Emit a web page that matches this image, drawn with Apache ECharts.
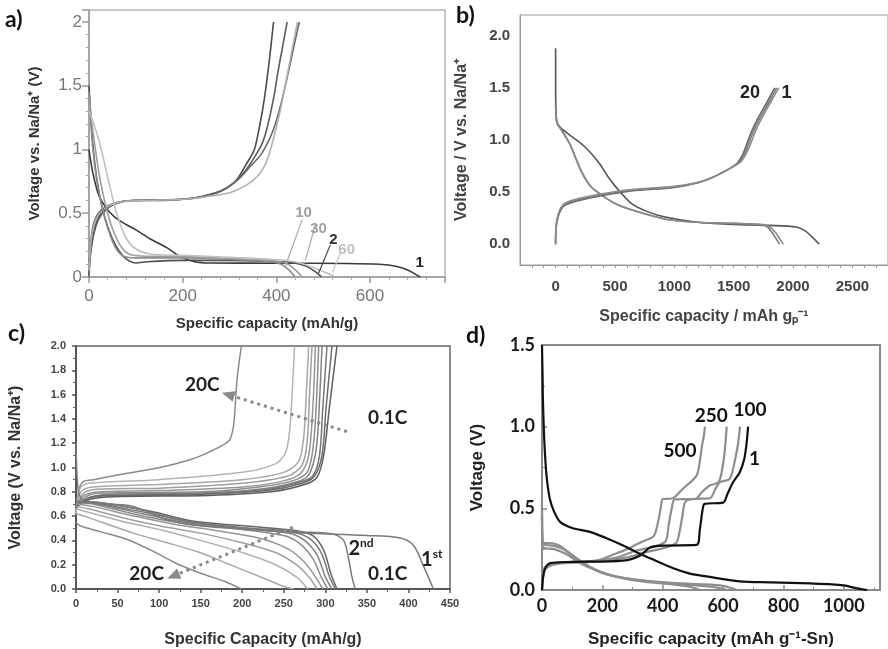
<!DOCTYPE html>
<html>
<head>
<meta charset="utf-8">
<script src="https://cdn.jsdelivr.net/npm/echarts@6/dist/echarts.min.js"></script>
<style>
  html, body { margin: 0; padding: 0; background: #fff; }
  #chart { width: 888px; height: 649px; }
</style>
</head>
<body>
<div id="chart"></div>
<script>
// ---------- Panel a: Na/Na+ cycling at different cycle numbers ----------
const aChargeCurves = [
  [[0,0.02],[4,0.2],[12,0.38],[25,0.5],[45,0.56],[70,0.59],[100,0.6],[150,0.6],[200,0.61],[238,0.63],[270,0.66],[295,0.7],[315,0.76],[335,0.88],[353,1.0],[365,1.2],[374,1.39],[385,1.7],[394,2.0]],
  [[0,0.12],[8,0.3],[20,0.45],[40,0.54],[70,0.59],[100,0.6],[200,0.61],[240,0.63],[280,0.67],[310,0.74],[335,0.84],[355,0.95],[370,1.05],[381,1.18],[395,1.42],[403,1.6],[413,1.8],[423,2.0]],
  [[0,0.0],[3,0.25],[10,0.42],[25,0.52],[55,0.58],[90,0.6],[200,0.61],[245,0.63],[285,0.68],[320,0.77],[345,0.87],[367,0.96],[385,1.08],[396,1.18],[410,1.36],[424,1.58],[437,1.8],[449,2.0]],
  [[0,0.05],[5,0.3],[15,0.45],[35,0.54],[70,0.59],[120,0.6],[200,0.61],[250,0.63],[300,0.66],[340,0.73],[362,0.8],[376,0.88],[389,1.02],[408,1.3],[424,1.6],[437,1.85],[445,2.0]]
];
const aDischargeCurves = [
  [[0,1.0],[8,0.82],[20,0.65],[35,0.55],[55,0.47],[80,0.41],[100,0.37],[130,0.3],[166,0.23],[195,0.16],[225,0.12],[260,0.11],[400,0.108],[550,0.106],[620,0.1],[655,0.085],[680,0.055],[707,0]],
  [[0,1.5],[5,1.2],[12,0.9],[22,0.65],[35,0.45],[50,0.3],[65,0.2],[80,0.14],[100,0.11],[125,0.12],[200,0.13],[300,0.13],[400,0.12],[430,0.115],[460,0.09],[480,0.05],[497,0]],
  [[0,1.45],[6,1.1],[15,0.8],[28,0.55],[42,0.36],[58,0.22],[75,0.16],[100,0.15],[200,0.15],[300,0.14],[390,0.12],[410,0.1],[428,0.05],[440,0]],
  [[0,1.4],[10,1.1],[22,0.8],[35,0.57],[50,0.38],[68,0.24],[85,0.18],[110,0.165],[200,0.16],[300,0.145],[400,0.125],[425,0.1],[442,0.05],[455,0]],
  [[0,1.3],[10,1.2],[23,1.05],[40,0.78],[59,0.5],[80,0.3],[100,0.22],[130,0.18],[200,0.17],[300,0.155],[420,0.13],[460,0.1],[495,0.05],[522,0.01]]
];
const aLeaderLines = [
  [[455,0.45],[419,0.08]],
  [[483,0.41],[462,0.13]],
  [[515,0.25],[490,0.03]],
  [[537,0.19],[520,0.04]]
];
const aCycleLabels = [['10',458,0.50],['30',490,0.38],['2',522,0.29],['60',550,0.21],['1',706,0.11]];

// ---------- Panel b ----------
const bDischargeCurves = [
  [[0,1.88],[0,1.5],[3,1.3],[15,1.15],[60,1.1],[140,1.03],[250,0.93],[366,0.78],[440,0.65],[507,0.55],[640,0.39],[780,0.31],[923,0.26],[1197,0.21],[1500,0.19],[1800,0.18],[2028,0.165],[2100,0.13],[2160,0.07],[2220,0]],
  [[0,1.35],[10,1.18],[40,1.12],[116,0.97],[170,0.82],[224,0.68],[290,0.56],[366,0.49],[500,0.39],[640,0.33],[923,0.24],[1197,0.21],[1500,0.2],[1700,0.19],[1780,0.17],[1830,0.1],[1875,0.02],[1885,0]],
  [[0,1.33],[10,1.17],[45,1.1],[125,0.95],[180,0.8],[232,0.67],[300,0.55],[375,0.48],[510,0.385],[650,0.325],[930,0.24],[1200,0.21],[1500,0.2],[1720,0.19],[1800,0.17],[1860,0.1],[1905,0.02],[1920,0]]
];
const bChargeCurves = [
  [[0,0],[3,0.14],[20,0.26],[50,0.34],[90,0.38],[200,0.42],[366,0.46],[640,0.51],[1000,0.545],[1200,0.59],[1300,0.63],[1390,0.68],[1470,0.73],[1530,0.78],[1580,0.87],[1613,0.97],[1650,1.08],[1696,1.19],[1779,1.36],[1845,1.5]],
  [[0,0],[3,0.15],[20,0.27],[50,0.35],[90,0.39],[200,0.43],[366,0.47],[640,0.52],[1000,0.55],[1210,0.595],[1310,0.635],[1400,0.685],[1480,0.735],[1545,0.785],[1595,0.875],[1628,0.97],[1665,1.08],[1712,1.19],[1795,1.36],[1862,1.5]],
  [[0,0],[3,0.16],[20,0.28],[50,0.36],[90,0.4],[200,0.44],[366,0.48],[640,0.525],[1000,0.555],[1220,0.6],[1320,0.64],[1410,0.69],[1490,0.74],[1560,0.79],[1610,0.88],[1645,0.97],[1682,1.08],[1728,1.19],[1810,1.36],[1880,1.5]]
];
const bCycleLabels = [['20',1637,1.454],['1',1945,1.454]];

// ---------- Panel c: rate capability from 0.1C to 20C ----------
const cChargeCurves = [
  [[0,0.62],[3,0.8],[8,0.88],[21,0.9],[60,0.95],[101,1.0],[140,1.07],[161,1.13],[178,1.19],[185,1.23],[189,1.32],[191,1.45],[194,1.74],[199,2.0]],
  [[0,0.62],[5,0.83],[15,0.87],[100,0.9],[200,0.96],[240,1.03],[252,1.12],[257,1.3],[260,1.6],[263,2.0]],
  [[0,0.64],[6,0.8],[20,0.84],[100,0.86],[200,0.9],[250,0.96],[268,1.05],[274,1.25],[277,1.6],[280,2.0]],
  [[0,0.65],[8,0.78],[25,0.82],[100,0.83],[200,0.87],[255,0.93],[272,1.02],[278,1.2],[281,1.6],[284,2.0]],
  [[0,0.66],[10,0.77],[30,0.8],[100,0.81],[200,0.84],[250,0.89],[270,0.95],[280,1.1],[285,1.5],[288,2.0]],
  [[0,0.66],[12,0.76],[30,0.79],[150,0.8],[220,0.84],[260,0.89],[278,0.96],[285,1.15],[289,1.5],[292,2.0]],
  [[0,0.67],[15,0.75],[40,0.78],[150,0.79],[220,0.82],[265,0.88],[280,0.94],[289,1.15],[293,1.55],[296,2.0]],
  [[0,0.67],[15,0.75],[40,0.77],[150,0.78],[230,0.82],[270,0.88],[285,0.93],[293,1.1],[297,1.5],[302,2.0]],
  [[0,0.68],[15,0.75],[40,0.77],[150,0.78],[230,0.81],[272,0.87],[287,0.93],[296,1.1],[301,1.5],[308,2.0]],
  [[0,0.68],[18,0.74],[45,0.76],[160,0.77],[235,0.8],[275,0.86],[290,0.92],[298,1.1],[305,1.5],[314,2.0]]
];
const cDischargeCurves = [
  [[0,0.55],[5,0.52],[30,0.47],[61,0.41],[90,0.32],[121,0.21],[150,0.13],[180,0.06],[199,0]],
  [[0,0.62],[10,0.6],[69,0.46],[110,0.38],[149,0.3],[189,0.19],[229,0.08],[250,0.02],[262,0]],
  [[0,0.66],[10,0.64],[60,0.55],[100,0.49],[150,0.4],[200,0.3],[240,0.2],[265,0.1],[279,0]],
  [[0,0.68],[15,0.66],[60,0.58],[100,0.52],[150,0.46],[200,0.38],[240,0.3],[265,0.2],[280,0.1],[290,0]],
  [[0,0.7],[20,0.68],[70,0.6],[120,0.53],[170,0.48],[220,0.42],[255,0.33],[275,0.22],[288,0.1],[297,0]],
  [[0,0.71],[20,0.7],[80,0.6],[130,0.54],[200,0.49],[250,0.44],[270,0.37],[285,0.25],[295,0.1],[303,0]],
  [[0,0.72],[25,0.7],[80,0.62],[130,0.55],[200,0.5],[255,0.46],[275,0.4],[290,0.28],[300,0.1],[308,0]],
  [[0,0.72],[30,0.7],[90,0.62],[140,0.55],[210,0.5],[260,0.47],[280,0.42],[295,0.3],[305,0.1],[312,0]],
  [[0,0.72],[30,0.71],[90,0.64],[140,0.56],[220,0.51],[265,0.48],[285,0.44],[298,0.32],[307,0.12],[314,0]],
  [[0,0.72],[30,0.71],[80,0.65],[130,0.56],[200,0.5],[270,0.47],[310,0.45],[322,0.4],[328,0.25],[332,0.1],[336,0]],
  [[0,1.2],[3,0.8],[10,0.72],[40,0.7],[69,0.68],[109,0.57],[149,0.52],[229,0.48],[270,0.46],[350,0.44],[390,0.42],[406,0.36],[418,0.19],[430,0]]
];
const cRateArrows = [
  [[326,1.295],[183,1.60]],
  [[261,0.508],[117,0.107]]
];
const cRateLabels = [['20C',152,1.68],['0.1C',375,1.405],['20C',85,0.123],['0.1C',375,0.123]];
const cCycleLabels = [['2','nd',343,0.336],['1','st',428,0.246]];

// ---------- Panel d: Sn electrode, cycles 1-500 ----------
const dFirstDischarge = [[0,1.5],[2,1.3],[3,1.166],[8,0.9],[15,0.7],[26,0.557],[40,0.48],[60,0.417],[100,0.38],[159,0.356],[210,0.32],[269,0.272],[320,0.225],[358,0.194],[435,0.133],[490,0.1],[545,0.083],[655,0.053],[760,0.047],[889,0.04],[960,0.035],[1000,0.028],[1044,0.01],[1077,0]];
const dFirstCharge = [[0,0],[3,0.07],[10,0.13],[27,0.165],[100,0.172],[269,0.18],[324,0.21],[358,0.26],[400,0.272],[512,0.276],[523,0.37],[532,0.49],[539,0.527],[600,0.535],[615,0.59],[633,0.66],[655,0.72],[670,0.8],[678,0.9],[683,1.0]];
const dLaterCharges = [
  [[0,0],[3,0.08],[10,0.13],[39,0.165],[171,0.175],[282,0.2],[340,0.23],[410,0.26],[445,0.29],[455,0.35],[465,0.45],[475,0.54],[500,0.557],[556,0.562],[575,0.62],[590,0.66],[622,0.68],[640,0.8],[650,0.9],[656,1.0]],
  [[0,0],[3,0.1],[10,0.14],[39,0.165],[171,0.178],[250,0.2],[310,0.24],[380,0.27],[410,0.3],[420,0.4],[430,0.5],[440,0.555],[508,0.557],[530,0.6],[556,0.64],[585,0.66],[598,0.75],[606,0.86],[612,1.0]],
  [[0,0],[3,0.07],[12,0.13],[50,0.16],[171,0.175],[240,0.22],[282,0.25],[337,0.3],[370,0.33],[385,0.42],[395,0.52],[400,0.557],[430,0.56],[467,0.62],[512,0.7],[523,0.79],[530,0.88],[536,0.94],[540,1.0]]
];
const dLaterDischarges = [
  [[0,0.55],[1,0.35],[5,0.29],[36,0.285],[60,0.27],[103,0.21],[159,0.14],[214,0.095],[324,0.06],[430,0.035],[490,0.02],[523,0]],
  [[0,0.5],[1,0.33],[5,0.28],[40,0.27],[70,0.25],[116,0.19],[171,0.13],[226,0.09],[300,0.06],[400,0.04],[500,0.03],[560,0.02],[595,0.008],[613,0]],
  [[0,0.45],[1,0.3],[5,0.26],[40,0.25],[80,0.22],[130,0.16],[180,0.12],[240,0.085],[320,0.06],[420,0.045],[530,0.035],[600,0.025],[630,0.01],[646,0]]
];
const dCycleLabels = [['500',457,0.849],['250',561,1.065],['100',689,1.105],['1',704,0.80]];

// ---------- Axis tick values ----------
const bXTicks = [0, 500, 1000, 1500, 2000, 2500];
const bXMinor = [-200,-100,100,200,300,400,600,700,800,900,1100,1200,1300,1400,1600,1700,1800,1900,2100,2200,2300,2400,2600,2700];
const bYTicks = [0, 0.5, 1.0, 1.5, 2.0];

// ---------- Chart construction ----------
const ARIAL = 'Liberation Sans, Arial, sans-serif';
const LATO = 'Lato, Open Sans, sans-serif';
const plain = v => String(v);

function curve(idx, data, color, width) {
  return {
    type: 'line', xAxisIndex: idx, yAxisIndex: idx, data,
    symbol: 'none', showSymbol: false, smooth: 0.3, clip: true, silent: true,
    lineStyle: { color, width: width || 1.5 }, z: 3
  };
}
function textMarks(idx, items, style) {
  return {
    type: 'scatter', xAxisIndex: idx, yAxisIndex: idx, symbolSize: 0, silent: true, z: 6,
    itemStyle: { opacity: 1 },
    data: items.map(it => ({ value: [it[1], it[2]], name: it[0] })),
    label: Object.assign({ show: true, position: 'inside', opacity: 1, textBorderWidth: 0, formatter: p => p.name }, style)
  };
}

const series = [];

// panel a
const aChargeColors = ['#4a4a4a', '#5c5c5c', '#6a6a6a', '#b0b0b0'];
const aDischargeColors = ['#3a3a3a', '#505050', '#8c8c8c', '#9e9e9e', '#c0c0c0'];
aChargeCurves.forEach((d, i) => series.push(curve(0, d, aChargeColors[i], 1.6)));
aDischargeCurves.forEach((d, i) => series.push(curve(0, d, aDischargeColors[i], 1.6)));
const aLeaderColors = ['#a8a8a8', '#a8a8a8', '#444', '#c4c4c4'];
aLeaderLines.forEach((d, i) => series.push(Object.assign(curve(0, d, aLeaderColors[i], 1.2), { smooth: false })));
const aLabelColors = ['#a0a0a0', '#a0a0a0', '#333', '#c0c0c0', '#222'];
series.push({
  type: 'scatter', xAxisIndex: 0, yAxisIndex: 0, symbolSize: 0, silent: true, z: 6,
  itemStyle: { opacity: 1 },
  data: aCycleLabels.map((it, i) => ({ value: [it[1], it[2]], name: it[0], label: { color: aLabelColors[i] } })),
  label: { show: true, position: 'inside', opacity: 1, textBorderWidth: 0, formatter: p => p.name, fontFamily: ARIAL, fontWeight: 'bold', fontSize: 15 }
});

// panel b
const bDisColors = ['#555', '#7a7a7a', '#8a8a8a'];
const bChgColors = ['#6a6a6a', '#7c7c7c', '#8c8c8c'];
bDischargeCurves.forEach((d, i) => series.push(curve(1, d, bDisColors[i], 1.6)));
bChargeCurves.forEach((d, i) => series.push(curve(1, d, bChgColors[i], 1.6)));
series.push(textMarks(1, bCycleLabels, { fontFamily: ARIAL, fontWeight: 'bold', fontSize: 18, color: '#222' }));

// panel c
const cChgColors = ['#8a8a8a', '#b4b4b4', '#a8a8a8', '#a0a0a0', '#969696', '#8c8c8c', '#828282', '#777', '#6c6c6c', '#5e5e5e'];
const cDisColors = ['#8a8a8a', '#a8a8a8', '#b0b0b0', '#a0a0a0', '#969696', '#8c8c8c', '#828282', '#777', '#666', '#7a7a7a', '#7a7a7a'];
cChargeCurves.forEach((d, i) => series.push(curve(2, d, cChgColors[i], 1.5)));
cDischargeCurves.forEach((d, i) => series.push(curve(2, d, cDisColors[i], 1.5)));
series.push({
  type: 'line', xAxisIndex: 2, yAxisIndex: 2, data: [], silent: true,
  markLine: {
    silent: true, symbol: ['none', 'triangle'], symbolSize: [11, 13],
    label: { show: false },
    lineStyle: { type: [3, 4], width: 3, color: '#8a8a8a' },
    data: cRateArrows.map(a => [{ coord: a[0] }, { coord: a[1] }])
  }
});
series.push(textMarks(2, cRateLabels, { fontFamily: LATO, fontWeight: 'bold', fontSize: 19, color: '#222' }));
series.push({
  type: 'scatter', xAxisIndex: 2, yAxisIndex: 2, symbolSize: 0, silent: true, z: 6,
  itemStyle: { opacity: 1 },
  data: cCycleLabels.map(it => ({ value: [it[2], it[3]], name: it[0], sup: it[1] })),
  label: {
    show: true, position: 'inside', opacity: 1, textBorderWidth: 0,
    formatter: p => '{n|' + p.data.name + '}{s|' + p.data.sup + '}',
    rich: {
      n: { fontFamily: LATO, fontWeight: 'bold', fontSize: 20, color: '#222', lineHeight: 22, textBorderWidth: 0 },
      s: { fontFamily: LATO, fontWeight: 'bold', fontSize: 12, color: '#222', lineHeight: 22, verticalAlign: 'top', padding: [0, 0, 10, 0], textBorderWidth: 0 }
    }
  }
});

// panel d
dLaterDischarges.forEach(d => series.push(curve(3, d, '#8e8e8e', 2.2)));
dLaterCharges.forEach(d => series.push(curve(3, d, '#8e8e8e', 2.2)));
series.push(curve(3, dFirstDischarge, '#111', 2.2));
series.push(curve(3, dFirstCharge, '#111', 2.2));
series.push(textMarks(3, dCycleLabels, { fontFamily: LATO, fontWeight: 'bold', fontSize: 19, color: '#111' }));

const option = {
  backgroundColor: '#fff',
  animation: false,
  grid: [
    { left: 89, top: 10, width: 356, height: 267, show: true, borderColor: '#b8b8b8', borderWidth: 1.5, backgroundColor: '#fff' },
    { left: 520, top: 15, width: 373, height: 250, show: true, borderColor: '#9a9a9a', borderWidth: 1, backgroundColor: '#fff' },
    { left: 76, top: 346, width: 374, height: 244, show: true, borderColor: '#666', borderWidth: 1.5, backgroundColor: '#fff' },
    { left: 542, top: 345, width: 338, height: 247, show: true, borderColor: '#8a8a8a', borderWidth: 2, backgroundColor: '#fff' }
  ],
  xAxis: [
    {
      gridIndex: 0, type: 'value', min: 0, max: 760, interval: 200,
      name: 'Specific capacity (mAh/g)', nameLocation: 'middle', nameGap: 39,
      nameTextStyle: { fontFamily: ARIAL, fontWeight: 'bold', fontSize: 15, color: '#333' },
      axisLine: { onZero: false, lineStyle: { color: '#999', width: 1.5 } },
      axisTick: { inside: false, length: 6, lineStyle: { color: '#999', width: 1.5 } },
      minorTick: { show: true, splitNumber: 5, length: 3, lineStyle: { color: '#aaa' } },
      splitLine: { show: false },
      axisLabel: { margin: 11, fontFamily: ARIAL, fontSize: 17, color: '#777', showMaxLabel: false, formatter: plain }
    },
    {
      gridIndex: 1, type: 'value', min: -300, max: 2800,
      name: 'Specific capacity / mAh gₚ⁻¹', nameLocation: 'middle', nameGap: 44,
      nameTextStyle: { fontFamily: ARIAL, fontWeight: 'bold', fontSize: 16, color: '#444' },
      axisLine: { onZero: false, lineStyle: { color: '#999', width: 1 } },
      axisTick: { show: true, customValues: bXTicks.concat(bXMinor), length: 3, lineStyle: { color: '#999' } },
      splitLine: { show: false },
      axisLabel: { customValues: bXTicks, margin: 14, fontFamily: ARIAL, fontWeight: 'bold', fontSize: 15, color: '#444', formatter: plain }
    },
    {
      gridIndex: 2, type: 'value', min: 0, max: 450, interval: 50,
      name: 'Specific Capacity (mAh/g)', nameLocation: 'middle', nameGap: 43,
      nameTextStyle: { fontFamily: ARIAL, fontWeight: 'bold', fontSize: 16, color: '#333' },
      axisLine: { onZero: false, lineStyle: { color: '#555', width: 2 } },
      axisTick: { inside: false, length: 4, lineStyle: { color: '#555', width: 1.5 } },
      minorTick: { show: true, splitNumber: 2, length: 3, lineStyle: { color: '#666' } },
      splitLine: { show: false },
      axisLabel: { margin: 9, fontFamily: ARIAL, fontWeight: 'bold', fontSize: 11, color: '#444', formatter: plain }
    },
    {
      gridIndex: 3, type: 'value', min: 0, max: 1120, interval: 200,
      name: 'Specific capacity (mAh g⁻¹-Sn)', nameLocation: 'middle', nameGap: 41,
      nameTextStyle: { fontFamily: ARIAL, fontWeight: 'bold', fontSize: 17, color: '#222' },
      axisLine: { onZero: false, lineStyle: { color: '#8a8a8a', width: 2 } },
      axisTick: { inside: true, length: 5, lineStyle: { color: '#8a8a8a', width: 1.5 } },
      minorTick: { show: true, splitNumber: 2, length: 3, lineStyle: { color: '#8a8a8a' } },
      splitLine: { show: false },
      axisLabel: { margin: 7, fontFamily: LATO, fontWeight: 'bold', fontSize: 18, color: '#1a1a1a', showMaxLabel: false, formatter: plain }
    }
  ],
  yAxis: [
    {
      gridIndex: 0, type: 'value', min: 0, max: 2.094, interval: 0.5,
      name: 'Voltage vs. Na/Na⁺ (V)', nameLocation: 'middle', nameGap: 47,
      nameTextStyle: { fontFamily: ARIAL, fontWeight: 'bold', fontSize: 15, color: '#333' },
      axisLine: { onZero: false, lineStyle: { color: '#999', width: 1.5 } },
      axisTick: { inside: false, length: 7, lineStyle: { color: '#999', width: 1.5 } },
      minorTick: { show: true, splitNumber: 5, length: 3, lineStyle: { color: '#aaa' } },
      splitLine: { show: false },
      axisLabel: { margin: 7, fontFamily: ARIAL, fontSize: 17, color: '#777', showMaxLabel: false, formatter: plain }
    },
    {
      gridIndex: 1, type: 'value', min: -0.2, max: 2.2,
      name: 'Voltage / V vs. Na/Na⁺', nameLocation: 'middle', nameGap: 50,
      nameTextStyle: { fontFamily: ARIAL, fontWeight: 'bold', fontSize: 16, color: '#444' },
      axisLine: { onZero: false, lineStyle: { color: '#999', width: 1 } },
      axisTick: { show: false },
      splitLine: { show: false },
      axisLabel: { customValues: bYTicks, margin: 10, fontFamily: ARIAL, fontWeight: 'bold', fontSize: 15, color: '#444', formatter: v => v.toFixed(1) }
    },
    {
      gridIndex: 2, type: 'value', min: 0, max: 2, interval: 0.2,
      name: 'Voltage (V vs. Na/Na⁺)', nameLocation: 'middle', nameGap: 52,
      nameTextStyle: { fontFamily: ARIAL, fontWeight: 'bold', fontSize: 16, color: '#333' },
      axisLine: { onZero: false, lineStyle: { color: '#555', width: 2 } },
      axisTick: { inside: false, length: 4, lineStyle: { color: '#555', width: 1.5 } },
      minorTick: { show: true, splitNumber: 2, length: 3, lineStyle: { color: '#666' } },
      splitLine: { show: false },
      axisLabel: { margin: 10, fontFamily: ARIAL, fontWeight: 'bold', fontSize: 11, color: '#444', formatter: v => v.toFixed(1) }
    },
    {
      gridIndex: 3, type: 'value', min: 0, max: 1.5, interval: 0.5,
      name: 'Voltage (V)', nameLocation: 'middle', nameGap: 56,
      nameTextStyle: { fontFamily: ARIAL, fontWeight: 'bold', fontSize: 17, color: '#222' },
      axisLine: { onZero: false, lineStyle: { color: '#8a8a8a', width: 2 } },
      axisTick: { inside: true, length: 5, lineStyle: { color: '#8a8a8a', width: 1.5 } },
      minorTick: { show: true, splitNumber: 2, length: 3, lineStyle: { color: '#8a8a8a' } },
      splitLine: { show: false },
      axisLabel: { margin: 7, fontFamily: LATO, fontWeight: 'bold', fontSize: 18, color: '#1a1a1a', formatter: v => v.toFixed(1) }
    }
  ],
  graphic: [
    { type: 'text', left: 5, top: 8, style: { text: 'a)', font: 'bold 23px Lato, sans-serif', fill: '#111' } },
    { type: 'text', left: 456, top: 4, style: { text: 'b)', font: 'bold 23px Lato, sans-serif', fill: '#111' } },
    { type: 'text', left: 8, top: 322, style: { text: 'c)', font: 'bold 23px Lato, sans-serif', fill: '#111' } },
    { type: 'text', left: 466, top: 324, style: { text: 'd)', font: 'bold 23px Lato, sans-serif', fill: '#111' } }
  ],
  series
};

const chart = echarts.init(document.getElementById('chart'), null, { renderer: 'canvas' });
chart.setOption(option);
</script>
</body>
</html>
